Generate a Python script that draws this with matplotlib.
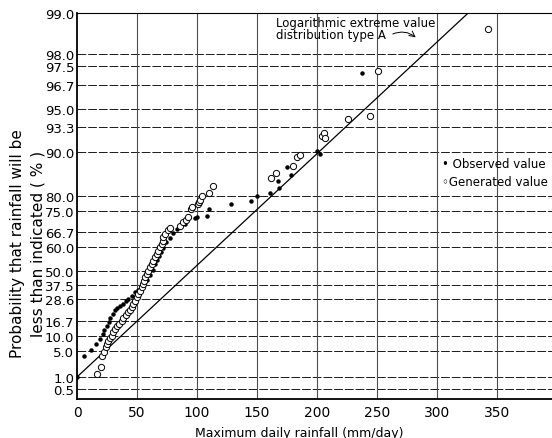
import numpy as np
import matplotlib
matplotlib.use("Agg")
import matplotlib.pyplot as plt

# probability paper: tick value (%) -> height on the sheet (px above the x axis)
prob_ticks = [99.0, 98.0, 97.5, 96.7, 95.0, 93.3, 90.0, 80.0, 75.0, 66.7,
              60.0, 50.0, 37.5, 28.6, 16.7, 10.0, 5.0, 1.0, 0.5]
prob_height = [386, 345, 333, 314, 290, 272, 247, 203, 188, 167,
               152, 128, 114, 100, 78, 63, 48, 22, 10]

# observed annual maxima (mm/day, % non-exceedance)
obs_x = [0, 5.8, 11.4, 15.8, 19.2, 21.3, 22.9, 24.6, 26.3, 27.9, 29.8, 31.7, 33.3,
         35.8, 38.3, 40.8, 42.8, 45.6, 48.3, 50.8, 53.3, 55.8, 58.3, 60.8, 63.3,
         65.0, 66.7, 68.3, 70.0, 71.7, 74.2, 77.5, 80.2, 83.0, 90.0, 98.3, 99.7,
         108.0, 110.0, 128.3, 145.0, 150.3, 160.8, 167.8, 168.6, 175.0, 178.3,
         200.0, 202.5, 237.5]
obs_p = [1.0, 4.2, 5.4, 7.3, 8.9, 11.0, 12.5, 14.5, 16.3, 18.3, 20.7, 22.6, 23.7,
         24.8, 25.9, 27.5, 28.6, 30.5, 32.9, 34.3, 35.6, 38.4, 42.0, 46.4, 50.5,
         52.9, 54.6, 56.3, 57.9, 59.6, 62.4, 64.0, 66.3, 67.9, 70.0, 72.1, 72.8,
         73.2, 75.6, 77.2, 78.2, 80.1, 80.6, 83.5, 81.8, 86.6, 84.8,
         90.1, 89.5, 97.2]

# generated values
gen_x = [16.3, 19.6, 20.8, 22.1, 23.9, 24.8, 26.1, 27.5, 28.9, 30.3, 31.7, 33.1, 35.0,
         37.3, 38.6, 40.8, 42.8, 44.2, 45.6, 46.9, 48.3, 49.8, 51.1, 52.5, 53.9,
         54.8, 55.8, 56.9, 58.1, 59.4, 60.8, 62.3, 63.6, 65.0, 66.4, 67.8, 69.2,
         70.6, 71.9, 71.9, 73.3, 75.8, 77.5, 85.8, 88.3, 90.8, 92.5, 94.8, 95.8,
         101.0, 102.0, 102.5, 104.4, 110.3, 113.6, 161.4, 165.8, 180.0, 183.3,
         185.8, 204.2, 205.8, 206.7, 225.8, 244.0, 250.8, 342.5]
gen_p = [1.4, 2.5, 4.2, 4.9, 6.2, 7.3, 8.4, 9.2, 10.1, 11.7, 13.1, 14.3, 15.4,
         16.9, 18.2, 20.0, 21.4, 22.8, 24.1, 25.9, 27.7, 29.7, 31.8, 33.9, 36.0,
         38.4, 41.3, 44.4, 47.3, 50.1, 51.5, 52.9, 54.3, 55.7, 57.1, 58.5, 59.9,
         61.3, 62.8, 64.5, 65.8, 67.5, 68.4, 69.2, 70.6, 71.4, 72.8, 75.6, 76.2,
         77.5, 78.1, 78.8, 79.9, 80.7, 82.2, 84.0, 85.2, 86.8, 88.9,
         89.3, 92.1, 92.5, 91.8, 94.1, 94.3, 97.3, 98.6]

# fitted logarithmic extreme value line (end points)
fit_x = [0, 326]
fit_p = [1.0, 99.0]

xticks = [0, 50, 100, 150, 200, 250, 300, 350]

# interpolation table for the scale (ascending), with the sheet bottom added
tab_p = np.array([0.1] + prob_ticks[::-1])
tab_h = np.array([0] + prob_height[::-1], dtype=float)


def fwd(p):
    return np.interp(p, tab_p, tab_h)


def inv(h):
    return np.interp(h, tab_h, tab_p)


fig = plt.figure(figsize=(5.52, 4.39), dpi=100)
ax = fig.add_axes([77 / 552, 1 - 400 / 439, 1 - 77 / 552, 386 / 439])
ax.set_yscale('function', functions=(fwd, inv))
ax.set_xlim(0, 475 / 1.2)
ax.set_ylim(0.1, 99.0)

for p in prob_ticks:
    ax.axhline(p, color='0.1', lw=0.7, ls=(0, (9, 2)), zorder=1)
for x in xticks[1:]:
    ax.axvline(x, color='0.3', lw=0.8, zorder=1)

ax.plot(fit_x, fit_p, color='black', lw=0.9, zorder=2)
ax.plot(obs_x, obs_p, ls='none', marker='o', ms=2.2, color='black', zorder=3)
ax.plot(gen_x, gen_p, ls='none', marker='o', ms=4.5, mfc='white', mec='black',
        mew=0.7, zorder=3)

ax.set_yticks(prob_ticks)
ax.set_yticklabels(['%.1f' % p for p in prob_ticks], fontsize=9.5)
ax.set_xticks(xticks)
ax.set_xticklabels([str(x) for x in xticks], fontsize=10)
ax.tick_params(length=0)
ax.tick_params(axis='y', pad=2)
ax.tick_params(axis='x', pad=4)
ax.spines['right'].set_visible(False)
for s in ['left', 'bottom']:
    ax.spines[s].set_linewidth(1.3)
ax.spines['top'].set_linewidth(0.8)

ax.set_xlabel('Maximum daily rainfall (mm/day)', fontsize=9)
ax.xaxis.set_label_coords((299 - 77) / 475, -0.07)
ax.set_ylabel('Probability that rainfall will be\nless than indicated ( % )',
              fontsize=11, linespacing=1.45)
ax.yaxis.set_label_coords(-0.066, 0.405)

ax.text(166, 98.62, 'Logarithmic extreme value\ndistribution type A',
        fontsize=8.5, va='center', ha='left', linespacing=0.95)
ax.annotate('', xy=(284, 98.36), xytext=(261, 98.46),
            arrowprops=dict(arrowstyle='->', lw=0.7,
                            connectionstyle='arc3,rad=-0.35'))

ax.text(304, 87.3, '\u2022 Observed value', fontsize=8.5, va='center')
ax.text(304, 83.2, '\u25e6Generated value', fontsize=8.5, va='center')

fig.savefig('out.png', dpi=100)
